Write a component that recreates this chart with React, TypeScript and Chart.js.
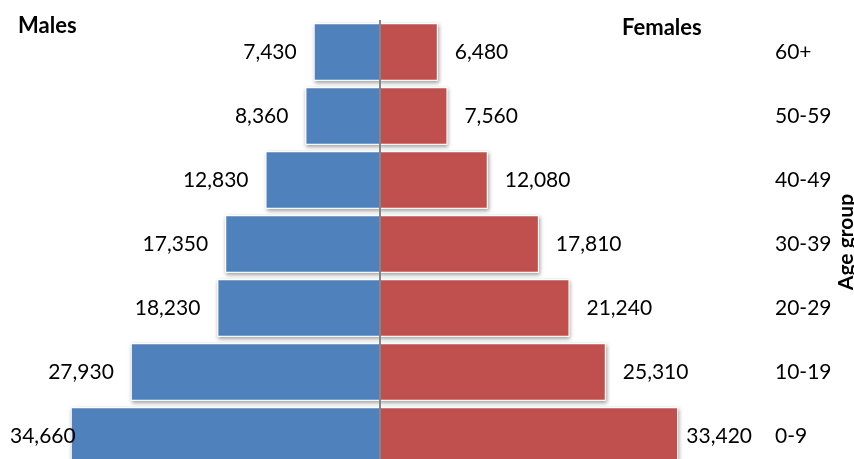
import React, { useEffect, useRef } from "react";
import { Chart, registerables } from "chart.js";

Chart.register(...registerables);

const categories = ["60+", "50-59", "40-49", "30-39", "20-29", "10-19", "0-9"];
const males = [7430, 8360, 12830, 17350, 18230, 27930, 34660];
const females = [6480, 7560, 12080, 17810, 21240, 25310, 33420];
const maleLabel = "Males";
const femaleLabel = "Females";
const axisTitle = "Age group";

const FONT = "Lato, 'Open Sans', sans-serif";
const BLUE = "#4F81BD";
const RED = "#C0504D";

const fmt = (v: number) => Math.abs(v).toLocaleString("en-US");

const pyramidPlugin = {
  id: "pyramid",
  beforeDatasetsDraw(chart: any) {
    const ctx = chart.ctx;
    ctx.save();
    ctx.shadowColor = "rgba(0,0,0,0.38)";
    ctx.shadowBlur = 4;
    ctx.shadowOffsetX = 1;
    ctx.shadowOffsetY = 2;
    ctx.fillStyle = "#ffffff";
    chart.data.datasets.forEach((_: any, di: number) => {
      const meta = chart.getDatasetMeta(di);
      meta.data.forEach((el: any) => {
        const p = el.getProps(["x", "y", "base", "height"], true);
        const l = Math.min(p.x, p.base);
        const w = Math.abs(p.x - p.base);
        ctx.fillRect(l, p.y - p.height / 2, w, p.height);
      });
    });
    ctx.restore();
  },
  afterDatasetsDraw(chart: any) {
    const ctx = chart.ctx;
    const area = chart.chartArea;
    const xs = chart.scales.x;
    const x0 = xs.getPixelForValue(0);
    ctx.save();
    // center axis line
    ctx.strokeStyle = "#868686";
    ctx.lineWidth = 2;
    ctx.beginPath();
    ctx.moveTo(x0, area.top);
    ctx.lineTo(x0, area.bottom);
    ctx.stroke();

    // data labels
    ctx.font = `21px ${FONT}`;
    ctx.fillStyle = "#000";
    ctx.textBaseline = "middle";
    chart.data.datasets.forEach((ds: any, di: number) => {
      const meta = chart.getDatasetMeta(di);
      meta.data.forEach((el: any, i: number) => {
        const p = el.getProps(["x", "y"], true);
        const txt = fmt(ds.data[i]);
        const w = ctx.measureText(txt).width;
        ctx.textAlign = "left";
        if (ds.data[i] < 0) {
          let left = p.x - 17 - w;
          if (left < 10) left = 10;
          ctx.fillText(txt, left, p.y);
        } else {
          let left = p.x + 17;
          if (left + w > 752) left = 752 - w;
          ctx.fillText(txt, left, p.y);
        }
      });
    });

    // headers
    ctx.font = `bold 22px ${FONT}`;
    ctx.textAlign = "left";
    ctx.fillText(maleLabel, 18, 26);
    ctx.fillText(femaleLabel, 622, 28);

    // axis title
    ctx.font = `bold 21px ${FONT}`;
    ctx.translate(846, 242);
    ctx.rotate(-Math.PI / 2);
    ctx.textAlign = "center";
    ctx.fillText(axisTitle, 0, 0);
    ctx.restore();
  },
};

export default function App() {
  const ref = useRef<HTMLCanvasElement | null>(null);
  useEffect(() => {
    if (!ref.current) return;
    const chart = new Chart(ref.current, {
      type: "bar",
      data: {
        labels: categories,
        datasets: [
          {
            label: maleLabel,
            data: males.map((v) => -v),
            backgroundColor: BLUE,
            borderColor: "#ffffff",
            borderWidth: 1,
            barPercentage: 0.9,
            categoryPercentage: 1,
          },
          {
            label: femaleLabel,
            data: females,
            backgroundColor: RED,
            borderColor: "#ffffff",
            borderWidth: 1,
            barPercentage: 0.9,
            categoryPercentage: 1,
          },
        ],
      },
      options: {
        indexAxis: "y",
        responsive: false,
        animation: false,
        layout: { padding: { top: 20, bottom: 2, left: 0, right: 0 } },
        plugins: {
          legend: { display: false },
          tooltip: { enabled: false },
        },
        scales: {
          x: {
            display: false,
            stacked: true,
            min: -42600,
            max: 42600,
          },
          y: {
            stacked: true,
            position: "right",
            grid: { display: false, drawTicks: false },
            border: { display: false },
            ticks: {
              color: "#000",
              padding: 15,
              font: { family: FONT, size: 21 },
            },
            afterFit: (s: any) => {
              s.width = 94;
              s.paddingTop = 0;
              s.paddingBottom = 0;
            },
          },
        },
      },
      plugins: [pyramidPlugin],
    });
    return () => chart.destroy();
  }, []);
  return (
    <div
      style={{
        position: "fixed",
        left: 0,
        top: 0,
        width: 854,
        height: 459,
        overflow: "hidden",
        background: "#fff",
      }}
    >
      <canvas ref={ref} width={854} height={470} style={{ display: "block" }} />
    </div>
  );
}
